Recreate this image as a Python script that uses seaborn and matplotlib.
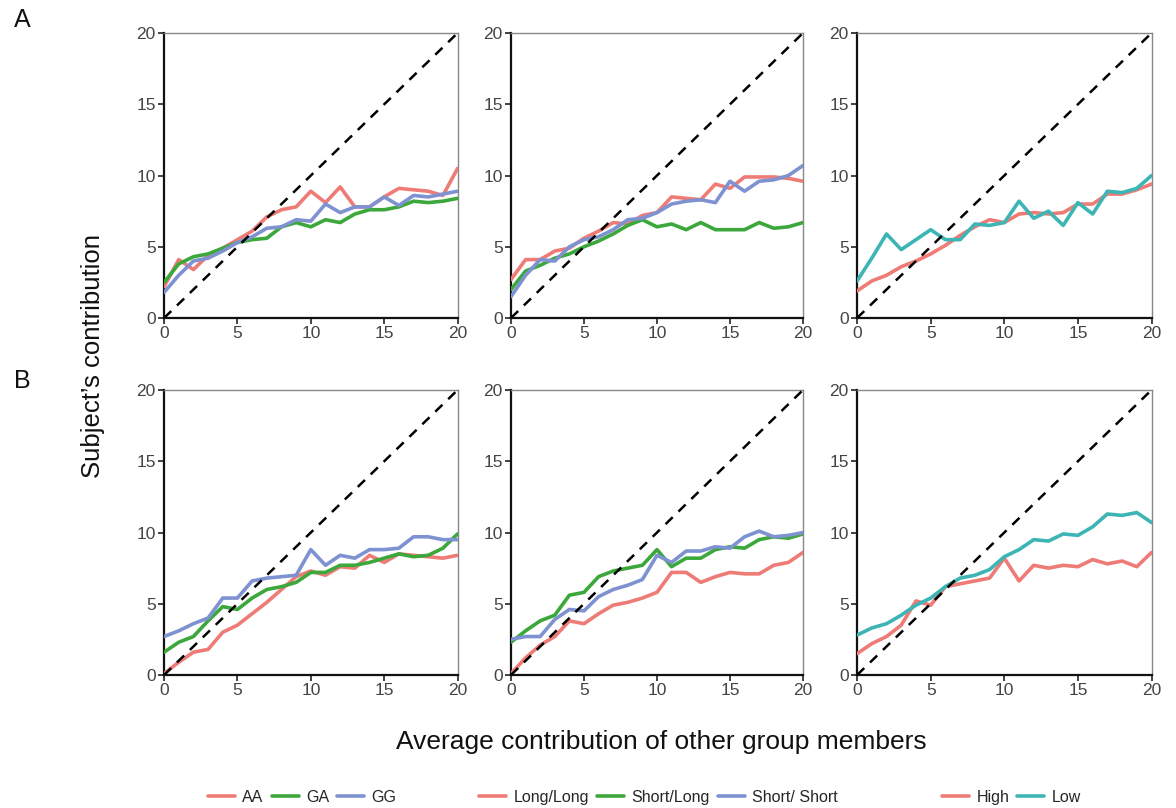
import numpy as np
import pandas as pd
import matplotlib
matplotlib.use("Agg")
import matplotlib.pyplot as plt
from matplotlib.lines import Line2D
import seaborn as sns

sns.set_theme(style="white")
plt.rcParams['font.family'] = ['Liberation Sans', 'DejaVu Sans']

x = list(range(21))

# Row A
a1_AA = [2.2, 4.1, 3.4, 4.4, 4.9, 5.5, 6.1, 7.1, 7.6, 7.8, 8.9, 8.1, 9.2, 7.8, 7.8, 8.5, 9.1, 9.0, 8.9, 8.6, 10.5]
a1_GA = [2.5, 3.8, 4.3, 4.5, 4.9, 5.3, 5.5, 5.6, 6.4, 6.7, 6.4, 6.9, 6.7, 7.3, 7.6, 7.6, 7.8, 8.2, 8.1, 8.2, 8.4]
a1_GG = [1.8, 3.0, 4.0, 4.2, 4.7, 5.3, 5.7, 6.3, 6.4, 6.9, 6.8, 8.0, 7.4, 7.8, 7.8, 8.5, 7.9, 8.6, 8.5, 8.7, 8.9]

a2_LL = [2.7, 4.1, 4.1, 4.7, 4.9, 5.6, 6.1, 6.7, 6.6, 7.2, 7.4, 8.5, 8.4, 8.3, 9.4, 9.1, 9.9, 9.9, 9.9, 9.8, 9.6]
a2_SL = [2.0, 3.3, 3.7, 4.2, 4.5, 5.0, 5.4, 5.9, 6.5, 6.9, 6.4, 6.6, 6.2, 6.7, 6.2, 6.2, 6.2, 6.7, 6.3, 6.4, 6.7]
a2_SS = [1.5, 3.0, 4.1, 4.0, 5.0, 5.5, 5.7, 6.2, 6.9, 7.0, 7.4, 8.0, 8.2, 8.3, 8.1, 9.6, 8.9, 9.6, 9.7, 10.0, 10.7]

a3_High = [1.9, 2.6, 3.0, 3.6, 4.0, 4.5, 5.1, 5.8, 6.4, 6.9, 6.7, 7.3, 7.4, 7.3, 7.4, 8.0, 8.0, 8.7, 8.7, 9.0, 9.4]
a3_Low = [2.6, 4.2, 5.9, 4.8, 5.5, 6.2, 5.5, 5.5, 6.6, 6.5, 6.7, 8.2, 7.0, 7.5, 6.5, 8.1, 7.3, 8.9, 8.8, 9.1, 10.0]

# Row B
b1_AA = [0.1, 0.9, 1.6, 1.8, 3.0, 3.5, 4.3, 5.1, 6.0, 6.9, 7.3, 7.0, 7.6, 7.5, 8.4, 7.9, 8.5, 8.4, 8.3, 8.2, 8.4]
b1_GA = [1.6, 2.3, 2.7, 3.8, 4.8, 4.6, 5.4, 6.0, 6.2, 6.5, 7.2, 7.2, 7.7, 7.7, 7.9, 8.2, 8.5, 8.3, 8.4, 8.9, 9.9]
b1_GG = [2.7, 3.1, 3.6, 4.0, 5.4, 5.4, 6.6, 6.8, 6.9, 7.0, 8.8, 7.7, 8.4, 8.2, 8.8, 8.8, 8.9, 9.7, 9.7, 9.5, 9.5]

b2_LL = [0.1, 1.2, 2.1, 2.7, 3.8, 3.6, 4.3, 4.9, 5.1, 5.4, 5.8, 7.2, 7.2, 6.5, 6.9, 7.2, 7.1, 7.1, 7.7, 7.9, 8.6]
b2_SL = [2.3, 3.1, 3.8, 4.2, 5.6, 5.8, 6.9, 7.3, 7.5, 7.7, 8.8, 7.6, 8.2, 8.2, 8.8, 9.0, 8.9, 9.5, 9.7, 9.6, 9.9]
b2_SS = [2.5, 2.7, 2.7, 3.9, 4.6, 4.5, 5.5, 6.0, 6.3, 6.7, 8.4, 7.9, 8.7, 8.7, 9.0, 8.9, 9.7, 10.1, 9.7, 9.8, 10.0]

b3_High = [1.5, 2.2, 2.7, 3.5, 5.2, 4.9, 6.2, 6.4, 6.6, 6.8, 8.2, 6.6, 7.7, 7.5, 7.7, 7.6, 8.1, 7.8, 8.0, 7.6, 8.6]
b3_Low = [2.8, 3.3, 3.6, 4.2, 4.9, 5.4, 6.2, 6.8, 7.0, 7.4, 8.3, 8.8, 9.5, 9.4, 9.9, 9.8, 10.4, 11.3, 11.2, 11.4, 10.7]

labels_g = ["AA", "GA", "GG"]
labels_l = ["Long/Long", "Short/Long", "Short/ Short"]
labels_h = ["High", "Low"]
ticks = [0, 5, 10, 15, 20]

RED = "#EE7B76"
GREEN = "#3CA83C"
BLUE = "#7E92D2"
TEAL = "#3DB5B5"
col3 = [RED, GREEN, BLUE]
col2 = [RED, TEAL]

panels = [
    [(labels_g, [a1_AA, a1_GA, a1_GG], col3),
     (labels_l, [a2_LL, a2_SL, a2_SS], col3),
     (labels_h, [a3_High, a3_Low], col2)],
    [(labels_g, [b1_AA, b1_GA, b1_GG], col3),
     (labels_l, [b2_LL, b2_SL, b2_SS], col3),
     (labels_h, [b3_High, b3_Low], col2)],
]

fig = plt.figure(figsize=(11.76, 8.08), dpi=100)
lefts = [0.1395, 0.4345, 0.7288]
widths = [0.2496, 0.2483, 0.2504]
bottoms = [0.6064, 0.1646]
h = 0.3527

for r in range(2):
    for c in range(3):
        ax = fig.add_axes([lefts[c], bottoms[r], widths[c], h])
        labs, series, cols = panels[r][c]
        rows = []
        for lab, vals in zip(labs, series):
            for xi, v in zip(x, vals):
                rows.append({"x": xi, "y": v, "grp": lab})
        df = pd.DataFrame(rows)
        sns.lineplot(data=df, x="x", y="y", hue="grp", hue_order=labs,
                     palette=cols, linewidth=2.6, ax=ax, legend=False, zorder=3)
        ax.plot([0, 20], [0, 20], linestyle=(0, (4, 3.2)), color="black", linewidth=1.8, zorder=4)
        ax.set_xlim(0, 20)
        ax.set_ylim(0, 20)
        ax.set_xticks(ticks)
        ax.set_yticks(ticks)
        ax.set_xlabel("")
        ax.set_ylabel("")
        ax.tick_params(axis="both", which="both", direction="out", length=4, width=1.2,
                       labelsize=12.5, labelcolor="#444444", color="#222222",
                       bottom=True, left=True, pad=2)
        for s in ["left", "bottom"]:
            ax.spines[s].set_color("#111111")
            ax.spines[s].set_linewidth(1.6)
        for s in ["top", "right"]:
            ax.spines[s].set_color("#888888")
            ax.spines[s].set_linewidth(1.0)

fig.text(0.079, 0.56, "Subject\u2019s contribution", rotation=90, ha="center", va="center", fontsize=18.5, color="#111111")
fig.text(0.562, 0.082, "Average contribution of other group members", ha="center", va="center", fontsize=19, color="#111111")
fig.text(0.019, 0.975, "A", ha="center", va="center", fontsize=18, color="#111111")
fig.text(0.019, 0.528, "B", ha="center", va="center", fontsize=18, color="#111111")

def add_leg(labs, cols, xc):
    handles = [Line2D([0], [0], color=c, linewidth=2.6) for c in cols]
    fig.legend(handles, labs, loc="center", bbox_to_anchor=(xc, 0.013), ncol=len(labs),
               frameon=False, fontsize=11.5, handlelength=1.7, handletextpad=0.45,
               columnspacing=0.5, borderpad=0.1)

add_leg(labels_g, col3, 0.257)
add_leg(labels_l, col3, 0.560)
add_leg(labels_h, col2, 0.860)

fig.savefig("out.png", dpi=100)
